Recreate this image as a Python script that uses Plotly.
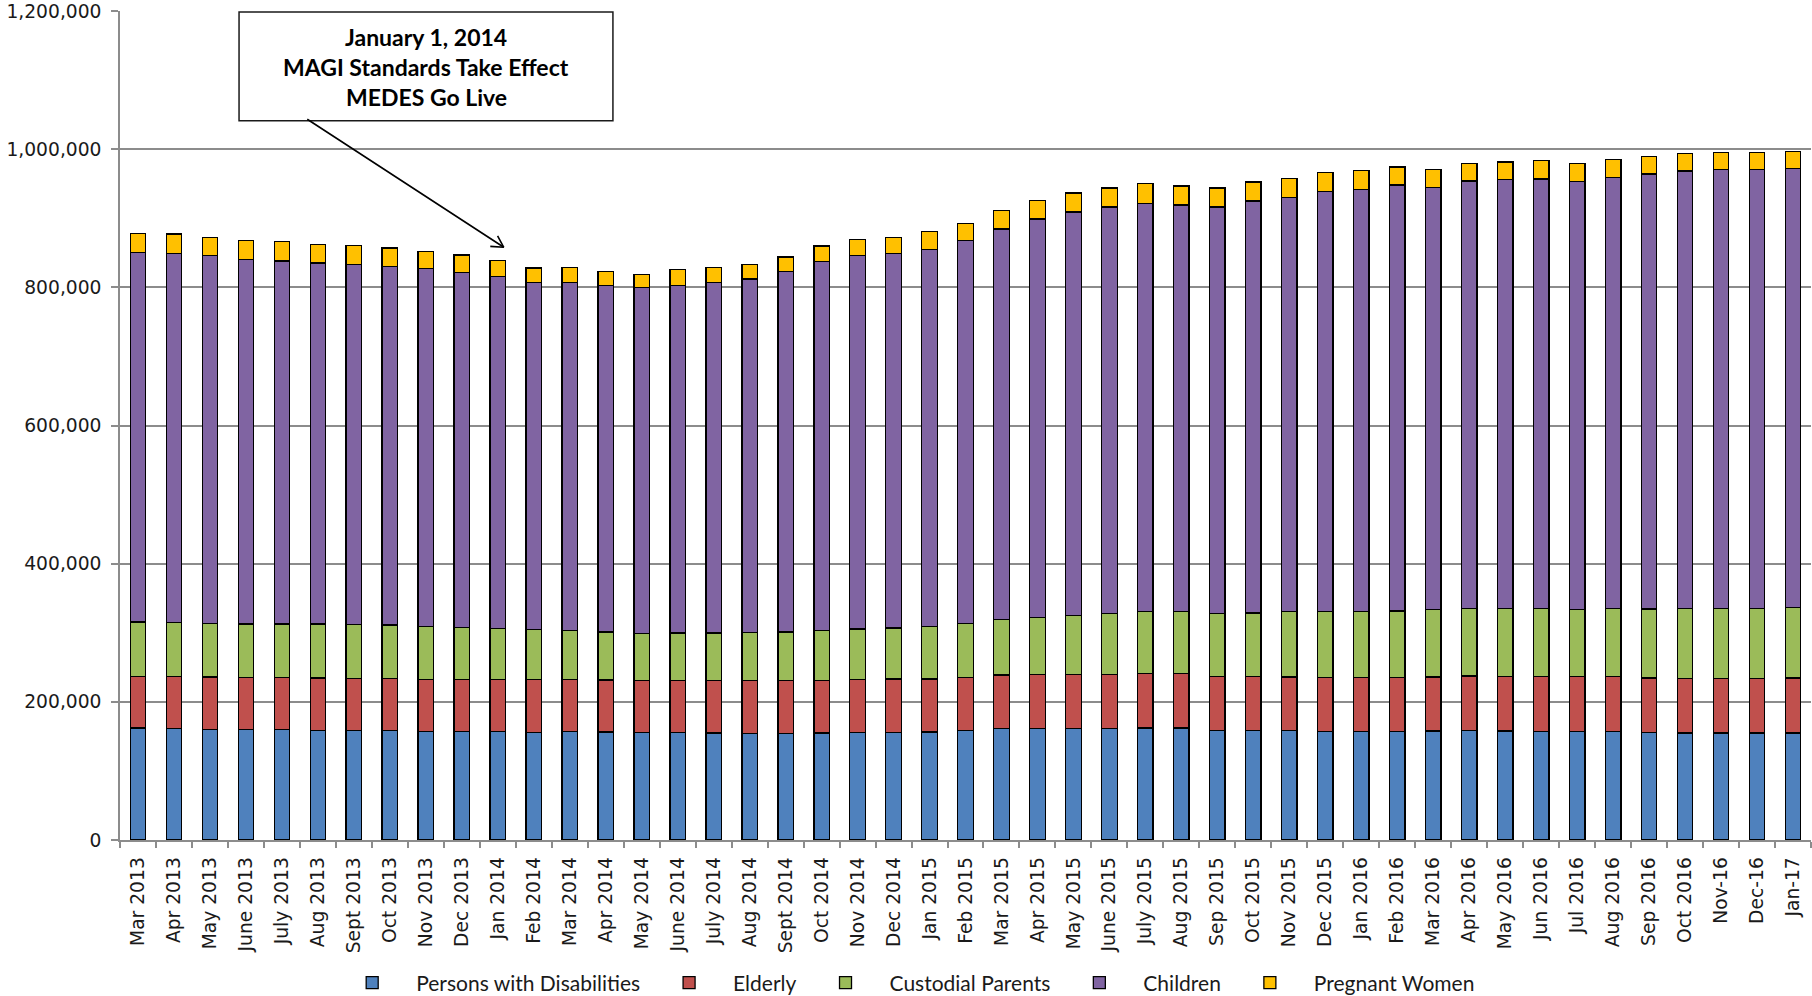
import plotly.graph_objects as go

months = ["Mar 2013", "Apr 2013", "May 2013", "June 2013", "July 2013", "Aug 2013", "Sept 2013",
          "Oct 2013", "Nov 2013", "Dec 2013", "Jan 2014", "Feb 2014", "Mar 2014", "Apr 2014",
          "May 2014", "June 2014", "July 2014", "Aug 2014", "Sept 2014", "Oct 2014", "Nov 2014",
          "Dec 2014", "Jan 2015", "Feb 2015", "Mar 2015", "Apr 2015", "May 2015", "June 2015",
          "July 2015", "Aug 2015", "Sep 2015", "Oct 2015", "Nov 2015", "Dec 2015", "Jan 2016",
          "Feb 2016", "Mar 2016", "Apr 2016", "May 2016", "Jun 2016", "Jul 2016", "Aug 2016",
          "Sep 2016", "Oct 2016", "Nov-16", "Dec-16", "Jan-17"]

disabilities = [162200, 161300, 160300, 159800, 160300, 158800, 158400, 158400, 157400, 157400,
                156900, 155900, 157400, 156400, 155900, 155400, 155000, 154500, 154500, 155000,
                155900, 155900, 156400, 158400, 161300, 161300, 161300, 161300, 162200, 162200,
                158400, 158400, 158400, 157400, 157400, 157400, 157900, 158400, 157900, 157400,
                157400, 157400, 155900, 155000, 155000, 155000, 155000]

elderly = [74600, 75500, 75500, 75600, 75100, 75600, 75500, 75000, 75000, 75000,
           75500, 76500, 75000, 75100, 75100, 75600, 76000, 76000, 76000, 76000,
           76100, 77000, 76500, 77000, 77400, 77900, 77900, 78400, 79000, 79000,
           78400, 77900, 77400, 77500, 77500, 78000, 77900, 78900, 78400, 78900,
           78900, 78900, 78500, 78900, 78900, 78900, 79400]

custodial = [78900, 78000, 78000, 77400, 77400, 78400, 78400, 78000, 77000, 75600,
             74100, 72200, 71200, 69700, 67800, 68800, 68800, 69700, 70700, 72600,
             73600, 74100, 76100, 77900, 80400, 83300, 86200, 87700, 89100, 89600,
             90600, 92500, 94500, 95900, 95400, 96300, 97400, 97800, 99300, 99300,
             97800, 98800, 100200, 101200, 101200, 101200, 101700]

children = [535100, 534600, 532200, 527900, 525500, 522600, 521100, 519100, 517700, 513800,
            509000, 502200, 503700, 501700, 500700, 503100, 507500, 511900, 521600, 534200,
            540400, 541900, 545700, 554500, 565200, 576300, 583600, 588800, 591200, 588300,
            588800, 596100, 599500, 608200, 611600, 616500, 611600, 618900, 620800, 621300,
            619400, 624200, 629600, 633400, 635800, 635800, 636300]

pregnant = [26700, 27600, 26600, 27600, 27600, 27100, 27600, 26600, 25200, 25200,
            23700, 21300, 21800, 20300, 19400, 22800, 21800, 20900, 21300, 22200,
            23700, 23300, 26200, 24700, 26600, 26600, 27600, 27600, 28600, 27600,
            27600, 27600, 27600, 27100, 27600, 26100, 25700, 25700, 25200, 26200,
            26200, 26200, 25600, 25200, 24300, 23800, 23800]

series_names = ["Persons with Disabilities", "Elderly", "Custodial Parents", "Children", "Pregnant Women"]
series_values = [disabilities, elderly, custodial, children, pregnant]
series_colors = ["#4F81BD", "#C0504D", "#9BBB59", "#8064A2", "#FFC000"]

y_ticks = [0, 200000, 400000, 600000, 800000, 1000000, 1200000]

fig = go.Figure()
for name, vals, col in zip(series_names, series_values, series_colors):
    fig.add_trace(go.Bar(x=months, y=vals, name=name,
                         marker=dict(color=col, line=dict(color="#000000", width=1.3))))

tick_font = dict(family="DejaVu Sans", size=18.7, color="#1a1a1a")

fig.update_layout(
    barmode="stack",
    bargap=0.57,
    width=1812, height=996,
    margin=dict(l=120, r=1, t=11, b=156),
    paper_bgcolor="white", plot_bgcolor="white",
    showlegend=True,
    legend=dict(orientation="h", xref="container", yref="container",
                x=0.499, xanchor="center", y=0.013, yanchor="middle",
                font=dict(family="Lato", size=21, color="#1a1a1a"),
                itemwidth=78, traceorder="normal"),
    xaxis=dict(type="category", tickangle=-90, tickfont=tick_font, automargin=False,
               showline=True, linecolor="#8c8c8c", linewidth=1.5,
               ticks="outside", tickson="boundaries", ticklen=6, tickcolor="#8c8c8c",
               tickwidth=1.5, ticklabelstandoff=8, showgrid=False),
    yaxis=dict(range=[0, 1200000], tickvals=y_ticks, tickformat=",d", tickfont=tick_font,
               automargin=False,
               showline=True, linecolor="#8c8c8c", linewidth=1.5,
               ticks="outside", ticklen=7, tickcolor="#8c8c8c", tickwidth=1.5,
               ticklabelstandoff=6,
               showgrid=True, gridcolor="#8c8c8c", gridwidth=1.5, zeroline=False),
)

# Annotation box
fig.add_shape(type="rect", xref="paper", yref="paper",
              x0=0.0704, x1=0.2915, y0=0.8677, y1=0.9988,
              line=dict(color="#1a1a1a", width=1.5), fillcolor="white", layer="above")

note_lines = ["January 1, 2014", "MAGI Standards Take Effect", "MEDES Go Live"]
note_y = [0.9690, 0.9328, 0.8959]
for txt, yy in zip(note_lines, note_y):
    fig.add_annotation(xref="paper", yref="paper", x=0.181, y=yy, text="<b>" + txt + "</b>",
                       showarrow=False, xanchor="center", yanchor="middle",
                       font=dict(family="Lato", size=23, color="#000000"))

# Arrow from the box to Jan 2014 with an open "V" head
arrow_parts = [(-198, -129), (-15, -1), (-7, -13)]
for dx, dy in arrow_parts:
    fig.add_annotation(x="Jan 2014", y=858000, xshift=6, text="", showarrow=True,
                       ax=dx, ay=dy, arrowhead=0, arrowwidth=1.6, arrowcolor="#000000")

fig.write_html("out.html", config={"displayModeBar": False},
               post_script="document.body.style.margin='0px';")
